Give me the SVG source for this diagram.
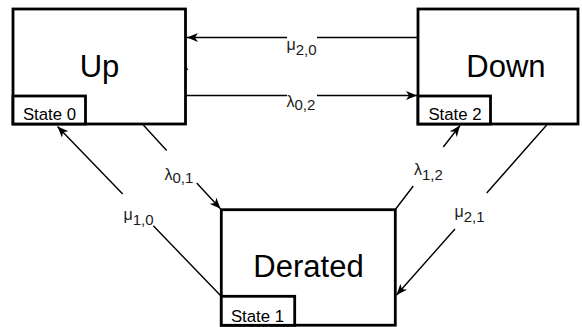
<svg xmlns="http://www.w3.org/2000/svg" width="582" height="327" viewBox="0 0 582 327">
  <defs>
    <marker id="arrow" markerUnits="userSpaceOnUse" markerWidth="12" markerHeight="10" viewBox="0 0 12 10" refX="11" refY="5" orient="auto">
      <path d="M0,0.5 L11,5 L0,9.5 L3,5 Z" fill="#000"/>
    </marker>
    <style>
      .box { fill: #fff; stroke: #000; stroke-width: 2.8; }
      .tag { fill: #fff; stroke: #000; stroke-width: 2.8; }
      .title { font-family: "Liberation Sans", Arial, sans-serif; font-size: 31px; fill: #000; text-anchor: middle; }
      .state { font-family: "Liberation Sans", Arial, sans-serif; font-size: 16.8px; fill: #000; text-anchor: middle; }
      .edge { fill: none; stroke: #000; stroke-width: 1.4; }
      .rate { font-family: "Liberation Sans", Arial, sans-serif; font-size: 16px; fill: #1a1a1a; }
      .sub { font-size: 15px; }
    </style>
  </defs>

  <rect width="582" height="327" fill="#fff"/>

  <!-- transitions between states -->
  <g id="connectors">
    <!-- Down -> Up (repair) -->
    <path class="edge" d="M418,37.5 L317,37.5 M287,37.5 L187,37.5" marker-end="url(#arrow)"/>
    <!-- Up -> Down (failure) -->
    <path class="edge" d="M186,95.5 L287,95.5 M317,95.5 L417,95.5" marker-end="url(#arrow)"/>
    <!-- Up -> Derated -->
    <path class="edge" d="M143.3,125 L166.7,150.5 M196.7,183 L220.5,208.8" marker-end="url(#arrow)"/>
    <!-- Derated -> Up -->
    <path class="edge" d="M221,296 L153.3,225.8 M122.7,194 L57.5,126.5" marker-end="url(#arrow)"/>
    <!-- Derated -> Down -->
    <path class="edge" d="M395.7,209 L413.3,186 M443.3,147 L460,125.5" marker-end="url(#arrow)"/>
    <!-- Down -> Derated -->
    <path class="edge" d="M546.7,125 L486.7,193 M455,229 L396.5,295" marker-end="url(#arrow)"/>
    <!-- small stub on the Up box edge -->
    <path d="M183.8,70 L186,65.5 L188.2,70 Z" fill="#000"/>

    <text class="rate" x="286.5" y="50">μ<tspan class="sub" dy="4.5">2,0</tspan></text>
    <text class="rate" x="286.5" y="106.5">λ<tspan class="sub" dy="3">0,2</tspan></text>
    <text class="rate" x="164.5" y="179.5">λ<tspan class="sub" dy="3">0,1</tspan></text>
    <text class="rate" x="123.5" y="220">μ<tspan class="sub" dy="4.5">1,0</tspan></text>
    <text class="rate" x="414" y="174.5">λ<tspan class="sub" dy="5">1,2</tspan></text>
    <text class="rate" x="454.5" y="217">μ<tspan class="sub" dy="4.5">2,1</tspan></text>
  </g>

  <g id="up">
    <rect class="box" x="13" y="9" width="172.5" height="115"/>
    <text class="title" x="99.5" y="76.5">Up</text>
    <rect class="tag" x="13" y="96" width="72.5" height="28"/>
    <text class="state" x="49.5" y="120">State 0</text>
  </g>

  <g id="down">
    <rect class="box" x="418" y="9" width="160" height="115"/>
    <text class="title" x="506" y="76.5">Down</text>
    <rect class="tag" x="418" y="96" width="72.5" height="28"/>
    <text class="state" x="455" y="120">State 2</text>
  </g>

  <g id="derated">
    <rect class="box" x="221.3" y="209.7" width="174" height="115.5"/>
    <text class="title" x="308.5" y="276.5">Derated</text>
    <rect class="tag" x="221.3" y="296.3" width="73.4" height="29"/>
    <text class="state" x="257.5" y="321.5">State 1</text>
  </g>
</svg>
